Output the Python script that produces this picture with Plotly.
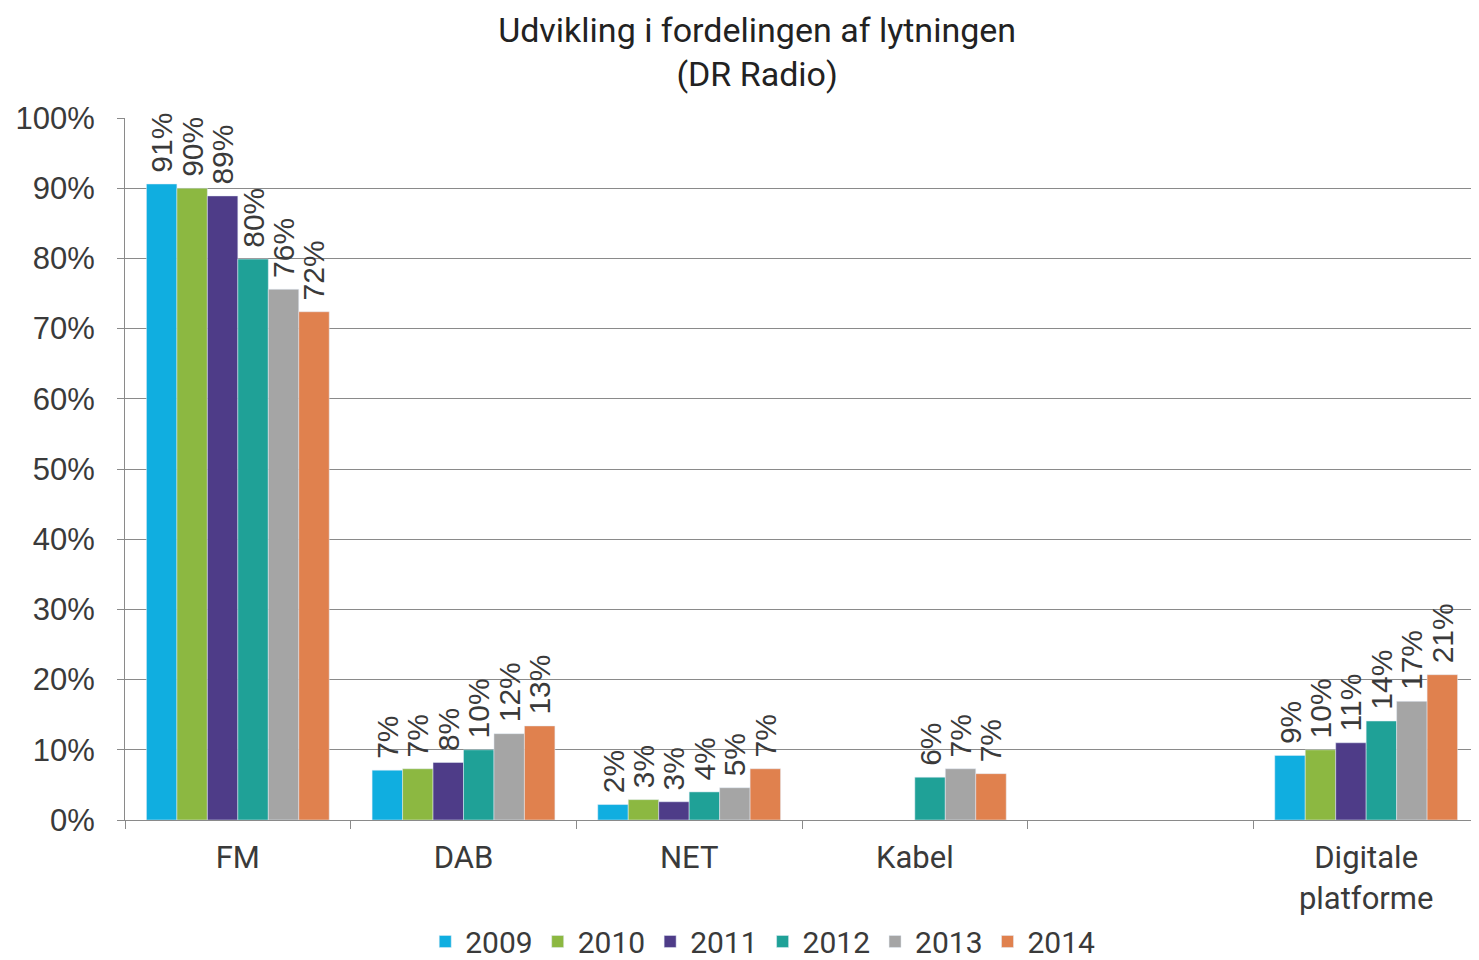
import plotly.graph_objects as go

categories = ["FM", "DAB", "NET", "Kabel", " ", "Digitale<br>platforme"]
years = ["2009", "2010", "2011", "2012", "2013", "2014"]
values = {
    "2009": [90.6, 7.1, 2.2, None, None, 9.2],
    "2010": [90.0, 7.3, 2.9, None, None, 10.0],
    "2011": [88.9, 8.2, 2.6, None, None, 11.0],
    "2012": [79.9, 10.0, 4.0, 6.1, None, 14.1],
    "2013": [75.6, 12.3, 4.6, 7.3, None, 16.9],
    "2014": [72.4, 13.4, 7.3, 6.6, None, 20.7],
}
colors = ["#10AEE0", "#8CB841", "#4E3C88", "#1FA197", "#A5A5A5", "#E0814E"]
y_ticks = [0, 10, 20, 30, 40, 50, 60, 70, 80, 90, 100]

TXT = "#3a3a3a"
fig = go.Figure()
for yr, col in zip(years, colors):
    fig.add_trace(go.Bar(
        name=yr, x=categories, y=values[yr], marker_color=col,
        texttemplate="\u00a0%{y:.0f}%", textposition="outside", textangle=-90,
        textfont=dict(size=30, color=TXT, family="Liberation Sans"),
        constraintext="none", cliponaxis=False,
    ))

fig.update_layout(
    width=1479, height=960,
    paper_bgcolor="white", plot_bgcolor="white",
    barmode="group", bargap=0.19, bargroupgap=0,
    margin=dict(l=117, r=8, t=110, b=148, autoexpand=False),
    font=dict(family="Liberation Sans", color=TXT),
    title=dict(text="Udvikling i fordelingen af lytningen<br>(DR Radio)",
               x=0.5065, xanchor="center", y=1 - 34 / 960, yanchor="middle",
               font=dict(size=34, color="#222222", family="Roboto")),
    legend=dict(orientation="h", x=0.471, xanchor="center", y=-0.136, yanchor="top",
                font=dict(size=30, color=TXT, family="Roboto"),
                itemwidth=30, traceorder="normal"),
    showlegend=True,
)
fig.update_xaxes(
    type="category", tickson="boundaries", ticks="outside", ticklen=8,
    tickcolor="#8a8a8a", showline=True, linecolor="#8a8a8a", linewidth=1,
    tickfont=dict(size=31, color=TXT, family="Roboto"), showgrid=False,
    ticklabelstandoff=10,
)
fig.update_yaxes(
    range=[0, 100], tickvals=y_ticks, ticktext=[f"{v}%" for v in y_ticks],
    ticks="outside", ticklen=7, tickcolor="#8a8a8a",
    showline=True, linecolor="#8a8a8a", linewidth=1,
    showgrid=True, gridcolor="#8a8a8a", gridwidth=1, zeroline=False,
    tickfont=dict(size=31, color=TXT, family="Liberation Sans"),
    ticklabelstandoff=16,
)
fig.write_html("out.html")
